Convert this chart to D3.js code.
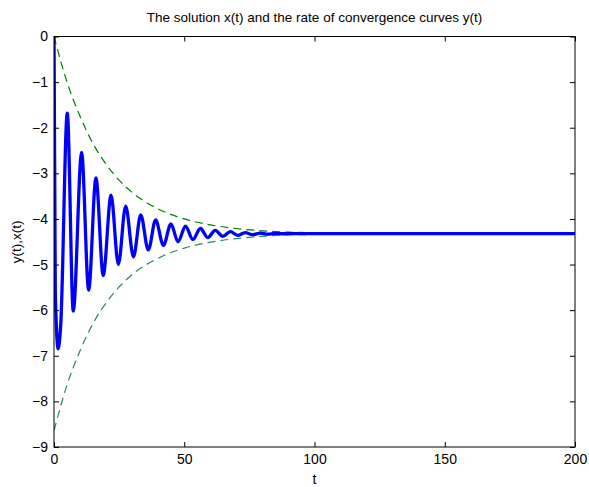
<!DOCTYPE html>
<html>
<head>
<meta charset="utf-8">
<script src="https://cdn.jsdelivr.net/npm/d3@7"></script>
<style>
  body { margin: 0; background: #fff; }
  svg text { font-family: "Liberation Sans", Arial, sans-serif; fill: #000; }
</style>
</head>
<body>
<div id="chart"></div>
<script>
// solution x(t): extrema
var solT = [0, 0.5, 1.6, 2.6, 5.1, 7.4, 10.6, 13.3, 16.1, 18.9, 21.9, 24.7, 27.5, 30.5, 33.3, 36.2,
    39.0, 42.0, 44.9, 47.6, 50.5, 53.3, 56.2, 59.0, 61.9, 64.8, 67.7, 70.5, 73.4, 76.3, 79.2, 82.0,
    85.0, 88.0, 92, 100, 130, 160, 200];
var solX = [0, -5.6, -6.85, -6.3, -1.68, -6.02, -2.54, -5.56, -3.10, -5.24, -3.48, -5.00, -3.72, -4.83, -3.91, -4.68,
    -4.02, -4.58, -4.11, -4.50, -4.16, -4.45, -4.21, -4.41, -4.25, -4.38, -4.28, -4.36, -4.30, -4.345, -4.31, -4.335,
    -4.315, -4.325, -4.32, -4.32, -4.32, -4.32, -4.32];

// convergence curves y(t)
var curveT = [0, 5, 10, 15, 20, 25, 30, 40, 50, 60, 70, 80, 90, 100, 120, 150, 200];
var upperY = [0, -1.0, -1.75, -2.35, -2.80, -3.15, -3.42, -3.78, -4.0, -4.13, -4.21, -4.26, -4.29, -4.30, -4.31, -4.32, -4.32];
var lowerY = [-8.64, -7.64, -6.89, -6.29, -5.84, -5.49, -5.22, -4.86, -4.64, -4.51, -4.43, -4.38, -4.35, -4.34, -4.33, -4.32, -4.32];

var xTicks = [0, 50, 100, 150, 200];
var yTicks = [0, -1, -2, -3, -4, -5, -6, -7, -8, -9];

var margin = {top: 36.5, right: 14, bottom: 40, left: 54};
var width = 589 - margin.left - margin.right;
var height = 487 - margin.top - margin.bottom;

var svg = d3.select("#chart").append("svg")
    .attr("width", 589)
    .attr("height", 487)
    .append("g")
    .attr("transform", "translate(" + margin.left + "," + margin.top + ")");

var x = d3.scaleLinear().domain([0, 200]).range([0, width]);
var y = d3.scaleLinear().domain([-9, 0]).range([height, 0]);

svg.append("clipPath").attr("id", "clip")
    .append("rect").attr("width", width).attr("height", height);

var plot = svg.append("g").attr("clip-path", "url(#clip)");

var line = d3.line()
    .x(function(d){ return x(d[0]); })
    .y(function(d){ return y(d[1]); })
    .curve(d3.curveMonotoneX);

plot.append("path")
    .datum(d3.zip(curveT, upperY))
    .attr("d", line)
    .attr("fill", "none")
    .attr("stroke", "#008000")
    .attr("stroke-width", 1.2)
    .attr("stroke-dasharray", "8,5");

plot.append("path")
    .datum(d3.zip(curveT, lowerY))
    .attr("d", line)
    .attr("fill", "none")
    .attr("stroke", "#2a8a5a")
    .attr("stroke-width", 1.2)
    .attr("stroke-dasharray", "8,5");

plot.append("path")
    .datum(d3.zip(solT, solX))
    .attr("d", line)
    .attr("fill", "none")
    .attr("stroke", "#0000ff")
    .attr("stroke-width", 3.3)
    .attr("stroke-linejoin", "round");

// axes, ticks pointing inward
var xAxis = d3.axisBottom(x).tickValues(xTicks).tickSize(-5).tickPadding(7).tickSizeOuter(0);
var yAxis = d3.axisLeft(y).tickValues(yTicks).tickSize(-5).tickPadding(6).tickSizeOuter(0);

svg.append("g")
    .attr("class", "x-axis")
    .attr("transform", "translate(0," + height + ")")
    .call(xAxis);

svg.append("g")
    .attr("class", "y-axis")
    .call(yAxis);

svg.append("g")
    .call(d3.axisTop(x).tickValues(xTicks).tickSize(-5).tickFormat("").tickSizeOuter(0));

svg.append("g")
    .attr("transform", "translate(" + width + ",0)")
    .call(d3.axisRight(y).tickValues(yTicks).tickSize(-5).tickFormat("").tickSizeOuter(0));

svg.selectAll(".domain").remove();
svg.selectAll(".tick line").attr("stroke", "#000");
svg.selectAll(".tick text").style("font-size", "14px");

svg.append("rect")
    .attr("width", width)
    .attr("height", height)
    .attr("fill", "none")
    .attr("stroke", "#000")
    .attr("stroke-width", 1);

svg.append("text")
    .attr("x", width / 2)
    .attr("y", -15)
    .attr("text-anchor", "middle")
    .style("font-size", "13.5px")
    .text("The solution x(t) and the rate of convergence curves y(t)");

svg.append("text")
    .attr("x", width / 2)
    .attr("y", height + 37)
    .attr("text-anchor", "middle")
    .style("font-size", "14px")
    .text("t");

svg.append("text")
    .attr("transform", "translate(-33," + (height / 2) + ") rotate(-90)")
    .attr("text-anchor", "middle")
    .style("font-size", "13.5px")
    .text("y(t),x(t)");
</script>
</body>
</html>
